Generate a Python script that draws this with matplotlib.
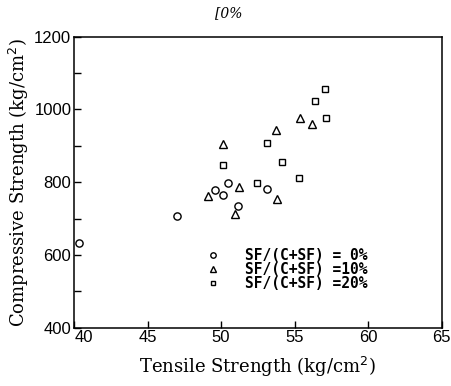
"""Compressive vs tensile strength for three silica-fume ratios."""

import matplotlib

matplotlib.use("Agg")
import matplotlib.pyplot as plt

# SF/(C+SF) = 0%
sf0_tensile = [40.35, 47.0, 49.6, 50.1, 50.45, 51.15, 53.15]
sf0_compressive = [632, 708, 778, 766, 798, 734, 782]

# SF/(C+SF) = 10%
sf10_tensile = [49.1, 50.1, 50.95, 51.2, 53.7, 53.8, 55.35, 56.2]
sf10_compressive = [761, 905, 712, 787, 943, 753, 977, 959]

# SF/(C+SF) = 20%
sf20_tensile = [50.1, 52.45, 53.15, 54.15, 55.3, 56.4, 57.1, 57.15]
sf20_compressive = [847, 798, 909, 855, 811, 1023, 1056, 976]

series_labels = ["SF/(C+SF) = 0%", "SF/(C+SF) =10%", "SF/(C+SF) =20%"]
x_ticks = [40, 45, 50, 55, 60, 65]
y_ticks = [400, 600, 800, 1000, 1200]
y_minor_ticks = [500, 700, 900, 1100]

fig = plt.figure(figsize=(4.52, 3.86), dpi=100)
ax = fig.add_axes([0.164, 0.151, 0.813, 0.754])

style = dict(linestyle="none", markerfacecolor="white", markeredgecolor="black",
             markeredgewidth=1.0, color="black")
ax.plot(sf0_tensile, sf0_compressive, marker="o", markersize=5.2,
        label=series_labels[0], **style)
ax.plot(sf10_tensile, sf10_compressive, marker="^", markersize=5.2,
        label=series_labels[1], **style)
ax.plot(sf20_tensile, sf20_compressive, marker="s", markersize=4.6,
        label=series_labels[2], **style)

ax.set_xlim(40, 65)
ax.set_ylim(400, 1200)
ax.set_xticks(x_ticks)
ax.set_yticks(y_ticks)
ax.set_yticks(y_minor_ticks, minor=True)
ax.tick_params(direction="in", length=5, width=1, labelsize=12, pad=2,
               top=False, right=False)
ax.tick_params(which="minor", direction="in", length=5, width=1,
               top=False, right=False)
for label in ax.get_xticklabels() + ax.get_yticklabels():
    label.set_family("Liberation Sans")
# the "40" sits just right of the corner, clear of "400"
ax.get_xticklabels()[0].set_horizontalalignment("left")
for spine in ax.spines.values():
    spine.set_linewidth(1.1)

ax.set_xlabel("Tensile Strength (kg/cm$^2$)", family="DejaVu Serif",
              fontsize=13, labelpad=7)
ax.set_ylabel("Compressive Strength (kg/cm$^2$)", family="DejaVu Serif",
              fontsize=13, labelpad=2)

ax.legend(loc="upper left", bbox_to_anchor=(0.31, 0.31), frameon=False,
          handletextpad=1.2, labelspacing=-0.05, markerscale=0.75,
          borderpad=0.2,
          prop={"family": "DejaVu Sans Mono", "weight": "bold", "size": 10.5})

fig.text(0.505, 0.965, "[0%", family="DejaVu Serif", style="italic",
         fontsize=10, ha="center", va="center")

fig.savefig("out.png", dpi=100, facecolor="white")
